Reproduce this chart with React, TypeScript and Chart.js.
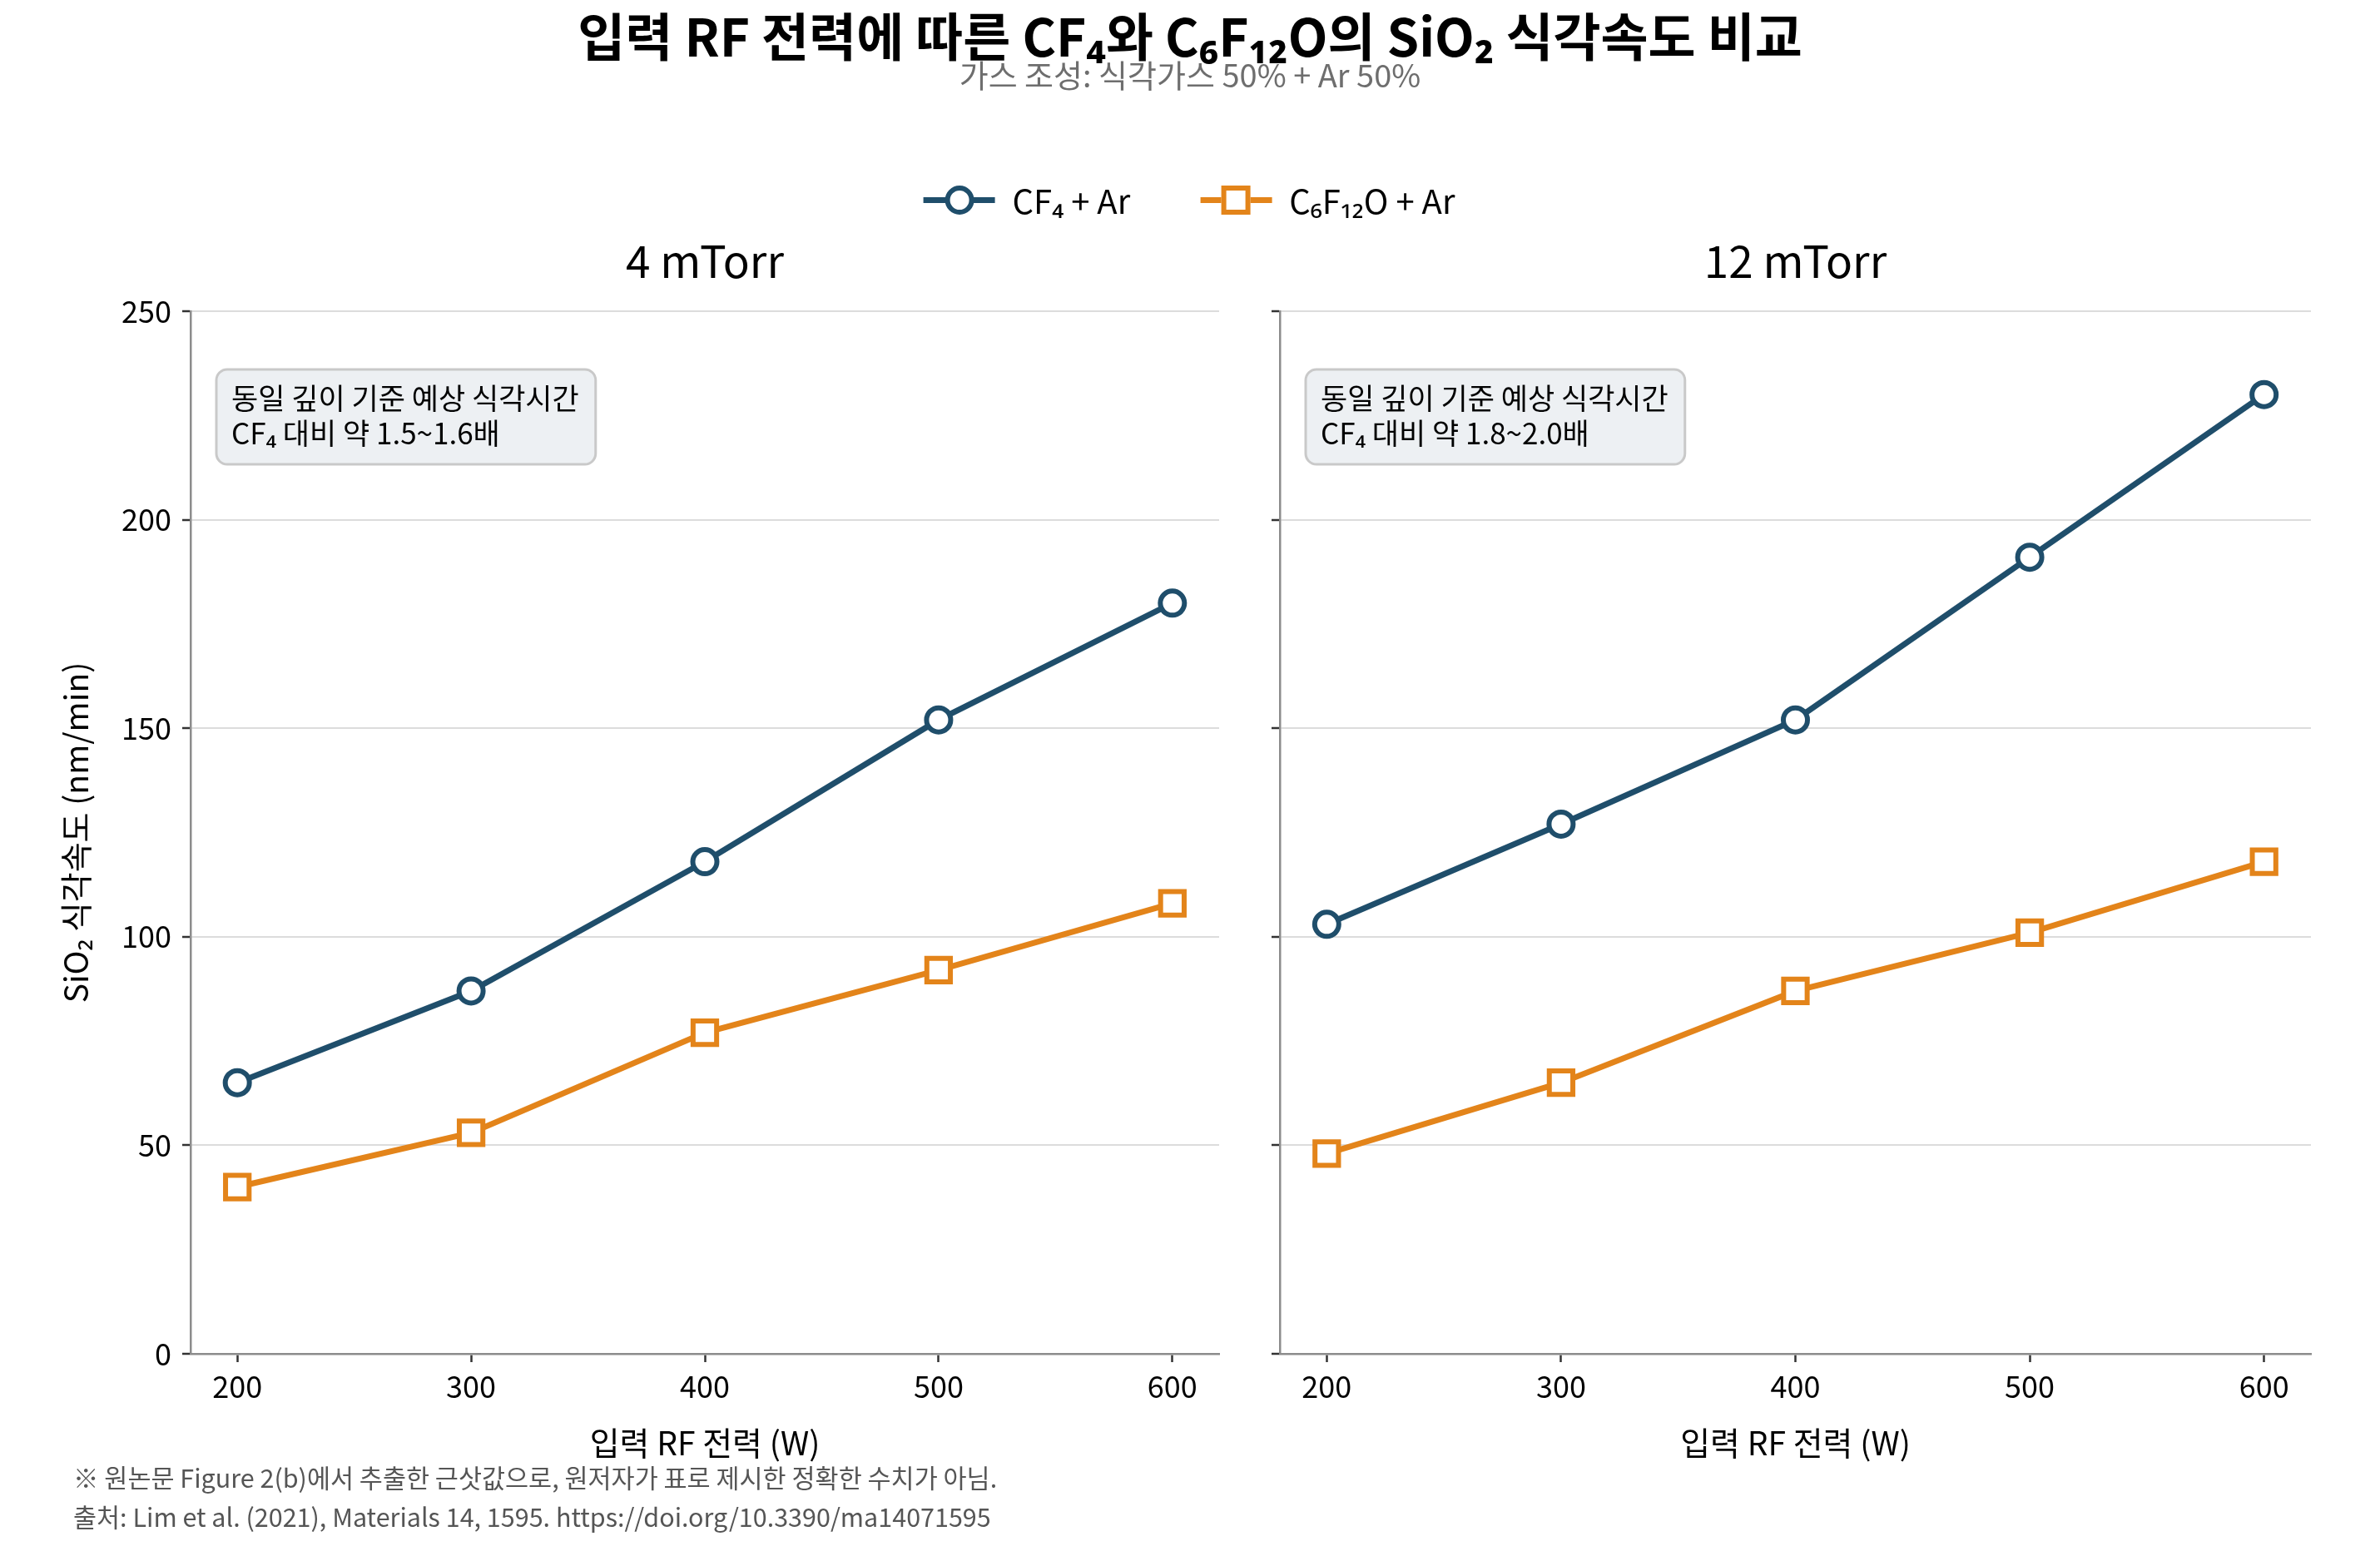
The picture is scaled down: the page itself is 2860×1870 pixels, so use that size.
import React, { useEffect, useRef } from "react";
import { Chart, registerables } from "chart.js";

Chart.register(...registerables);

const FONT = '"Noto Sans CJK KR", "Noto Sans", sans-serif';

const POWER = [200, 300, 400, 500, 600];
const CF4_4MTORR = [65, 87, 118, 152, 180];
const C6_4MTORR = [40, 53, 77, 92, 108];
const CF4_12MTORR = [103, 127, 152, 191, 230];
const C6_12MTORR = [48, 65, 87, 101, 118];
const X_TICKS = [200, 300, 400, 500, 600];
const Y_TICKS = [0, 50, 100, 150, 200, 250];
const SERIES_LABELS = ["CF₄ + Ar", "C₆F₁₂O + Ar"];
const PANEL_TITLES = ["4 mTorr", "12 mTorr"];
const NOTE_LINE1 = "동일 깊이 기준 예상 식각시간";
const NOTE_LINE2 = ["CF₄ 대비 약 1.5~1.6배", "CF₄ 대비 약 1.8~2.0배"];
const MAIN_TITLE = "입력 RF 전력에 따른 CF₄와 C₆F₁₂O의 SiO₂ 식각속도 비교";
const SUBTITLE = "가스 조성: 식각가스 50% + Ar 50%";
const X_TITLE = "입력 RF 전력 (W)";
const Y_TITLE = "SiO₂ 식각속도 (nm/min)";
const FOOTNOTES = [
  "※ 원논문 Figure 2(b)에서 추출한 근삿값으로, 원저자가 표로 제시한 정확한 수치가 아님.",
  "출처: Lim et al. (2021), Materials 14, 1595. https://doi.org/10.3390/ma14071595",
];

const NAVY = "#1f4e6b";
const ORANGE = "#e3841a";

function roundRect(ctx: CanvasRenderingContext2D, x: number, y: number, w: number, h: number, r: number) {
  ctx.beginPath();
  ctx.moveTo(x + r, y);
  ctx.lineTo(x + w - r, y);
  ctx.arcTo(x + w, y, x + w, y + r, r);
  ctx.lineTo(x + w, y + h - r);
  ctx.arcTo(x + w, y + h, x + w - r, y + h, r);
  ctx.lineTo(x + r, y + h);
  ctx.arcTo(x, y + h, x, y + h - r, r);
  ctx.lineTo(x, y + r);
  ctx.arcTo(x, y, x + r, y, r);
  ctx.closePath();
}

function makeDecor(title: string, lines: string[]) {
  return {
    id: "panelDecor",
    afterDraw(chart: any) {
      const { ctx, chartArea } = chart;
      ctx.save();
      ctx.fillStyle = "#000";
      ctx.font = `53px ${FONT}`;
      ctx.textAlign = "center";
      ctx.textBaseline = "middle";
      ctx.fillText(title, (chartArea.left + chartArea.right) / 2, 314);

      ctx.font = `35px ${FONT}`;
      const tw = Math.max(...lines.map((l) => ctx.measureText(l).width));
      const bx = chartArea.left + 31;
      const by = chartArea.top + 70;
      const bw = tw + 38;
      const bh = 114;
      roundRect(ctx, bx, by, bw, bh, 13);
      ctx.fillStyle = "#edf0f3";
      ctx.fill();
      ctx.lineWidth = 3;
      ctx.strokeStyle = "#c9c9c9";
      ctx.stroke();
      ctx.fillStyle = "#000";
      ctx.textAlign = "left";
      ctx.textBaseline = "middle";
      lines.forEach((l, i) => ctx.fillText(l, bx + 18, by + 35 + i * 42));
      ctx.restore();
    },
  };
}

type PanelProps = {
  left: number;
  width: number;
  padRight: number;
  yWidth: number;
  showYLabels: boolean;
  cf4: number[];
  c6: number[];
  title: string;
  lines: string[];
};

function Panel(p: PanelProps) {
  const ref = useRef<HTMLCanvasElement | null>(null);
  useEffect(() => {
    if (!ref.current) return;
    const tickFont = { family: FONT, size: 36 };
    const titleFont = { family: FONT, size: 39 };
    const chart = new Chart(ref.current, {
      type: "line",
      data: {
        datasets: [
          {
            label: SERIES_LABELS[0],
            data: POWER.map((x, i) => ({ x, y: p.cf4[i] })),
            borderColor: NAVY,
            backgroundColor: "#ffffff",
            borderWidth: 7,
            pointStyle: "circle",
            pointRadius: 14.5,
            pointBorderWidth: 6,
            pointBackgroundColor: "#ffffff",
            pointBorderColor: NAVY,
            tension: 0,
            clip: false as any,
          },
          {
            label: SERIES_LABELS[1],
            data: POWER.map((x, i) => ({ x, y: p.c6[i] })),
            borderColor: ORANGE,
            backgroundColor: "#ffffff",
            borderWidth: 7,
            pointStyle: "rect",
            pointRadius: 20,
            pointBorderWidth: 6,
            pointBackgroundColor: "#ffffff",
            pointBorderColor: ORANGE,
            tension: 0,
            clip: false as any,
          },
        ],
      },
      options: {
        responsive: false,
        animation: false,
        devicePixelRatio: 1,
        layout: { padding: { top: 374, right: p.padRight, bottom: 1870 - 1627 - 140, left: 0 } },
        plugins: { legend: { display: false }, tooltip: { enabled: false }, title: { display: false } },
        scales: {
          x: {
            type: "linear",
            min: 180,
            max: 620,
            afterBuildTicks: (s: any) => {
              s.ticks = X_TICKS.map((v) => ({ value: v }));
            },
            afterFit: (s: any) => {
              s.height = 140;
            },
            ticks: { font: tickFont, color: "#000", padding: 8, maxRotation: 0 },
            grid: { drawOnChartArea: false, drawTicks: true, tickLength: 10, tickWidth: 2.5, tickColor: "#333" },
            border: { display: true, color: "#8c8c8c", width: 2.5 },
            title: { display: true, text: X_TITLE, font: titleFont, color: "#000", padding: { top: 0, bottom: 9 } },
          },
          y: {
            type: "linear",
            min: 0,
            max: 250,
            afterBuildTicks: (s: any) => {
              s.ticks = Y_TICKS.map((v) => ({ value: v }));
            },
            afterFit: (s: any) => {
              s.width = p.yWidth;
            },
            ticks: {
              font: tickFont,
              color: "#000",
              padding: 13,
              callback: (v: any) => (p.showYLabels ? String(v) : ""),
            },
            grid: { color: "#dcdcdc", lineWidth: 2, drawTicks: true, tickLength: 10, tickWidth: 2.5, tickColor: "#333" },
            border: { display: true, color: "#8c8c8c", width: 2.5 },
            title: {
              display: p.showYLabels,
              text: Y_TITLE,
              font: titleFont,
              color: "#000",
              padding: { top: 68, bottom: 0 },
            },
          },
        },
      },
      plugins: [makeDecor(p.title, p.lines)],
    } as any);
    return () => chart.destroy();
  }, []);
  return (
    <canvas
      ref={ref}
      width={p.width}
      height={1870}
      style={{ position: "absolute", left: p.left, top: 0, width: p.width, height: 1870 }}
    />
  );
}

function LegendItem({ color, square, label }: { color: string; square: boolean; label: string }) {
  return (
    <div style={{ display: "flex", alignItems: "center" }}>
      <div style={{ position: "relative", width: 86, height: 36 }}>
        <div
          style={{
            position: "absolute",
            left: 0,
            right: 0,
            top: 14.5,
            height: 7,
            background: color,
          }}
        />
        <div
          style={{
            position: "absolute",
            left: 25.5,
            top: 0.5,
            width: 35,
            height: 35,
            boxSizing: "border-box",
            border: `6px solid ${color}`,
            borderRadius: square ? 0 : "50%",
            background: "#fff",
          }}
        />
      </div>
      <span style={{ marginLeft: 21, fontSize: 40, color: "#000", whiteSpace: "nowrap" }}>{label}</span>
    </div>
  );
}

export default function App() {
  return (
    <div
      style={{
        position: "fixed",
        left: 0,
        top: 0,
        width: 2860,
        height: 1870,
        background: "#fff",
        fontFamily: FONT,
        overflow: "hidden",
      }}
    >
      <Panel
        left={0}
        width={1500}
        padRight={35}
        yWidth={229}
        showYLabels={true}
        cf4={CF4_4MTORR}
        c6={C6_4MTORR}
        title={PANEL_TITLES[0]}
        lines={[NOTE_LINE1, NOTE_LINE2[0]]}
      />
      <Panel
        left={1500}
        width={1360}
        padRight={83}
        yWidth={38}
        showYLabels={false}
        cf4={CF4_12MTORR}
        c6={C6_12MTORR}
        title={PANEL_TITLES[1]}
        lines={[NOTE_LINE1, NOTE_LINE2[1]]}
      />
      <div
        style={{
          position: "absolute",
          left: 1430,
          top: 41,
          transform: "translate(-50%, -50%)",
          fontSize: 62,
          fontWeight: 700,
          whiteSpace: "nowrap",
          lineHeight: 1.2,
          color: "#000",
        }}
      >
        {MAIN_TITLE}
      </div>
      <div
        style={{
          position: "absolute",
          left: 1430,
          top: 89,
          transform: "translate(-50%, -50%)",
          fontSize: 38,
          whiteSpace: "nowrap",
          lineHeight: 1.2,
          color: "#6e6e6e",
        }}
      >
        {SUBTITLE}
      </div>
      <div
        style={{
          position: "absolute",
          left: 1429,
          top: 240,
          transform: "translate(-50%, -50%)",
          display: "flex",
          alignItems: "center",
          gap: 84,
          lineHeight: 1.2,
        }}
      >
        <LegendItem color={NAVY} square={false} label={SERIES_LABELS[0]} />
        <LegendItem color={ORANGE} square={true} label={SERIES_LABELS[1]} />
      </div>
      {FOOTNOTES.map((t, i) => (
        <div
          key={i}
          style={{
            position: "absolute",
            left: 88,
            top: 1775 + i * 47,
            transform: "translateY(-50%)",
            fontSize: 30.5,
            color: "#555",
            whiteSpace: "nowrap",
            lineHeight: 1.2,
          }}
        >
          {t}
        </div>
      ))}
    </div>
  );
}
